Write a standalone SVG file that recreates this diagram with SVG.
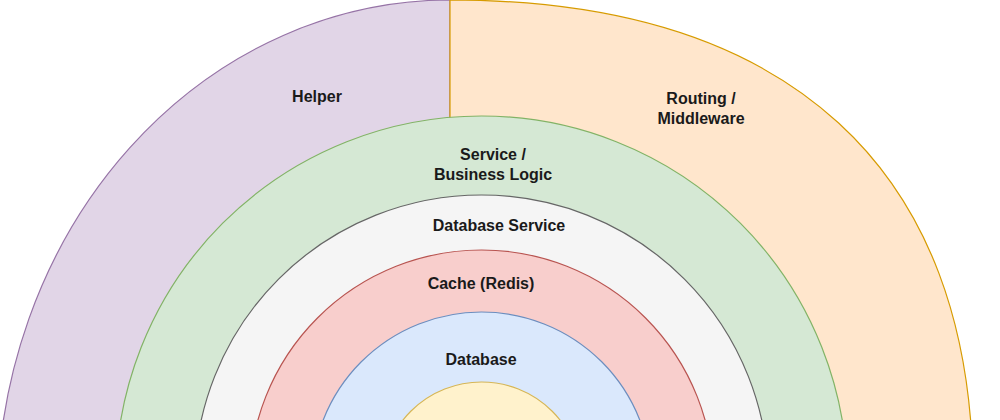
<svg xmlns="http://www.w3.org/2000/svg" width="1000" height="420" viewBox="0 0 1000 420">
<style>
.lbl{font-family:"Liberation Sans",Arial,sans-serif;font-size:16px;font-weight:bold;fill:#1a1a1a;text-anchor:middle}
.layer{stroke-width:1.2}
</style>
<rect width="1000" height="420" fill="#ffffff"/>
<g id="helper">
<path class="layer" d="M450,505 L450,0 A453,505 0 0 0 -3,505 Z" fill="#e1d5e7" stroke="#9673a6"/>
<text class="lbl" x="317" y="102">Helper</text>
</g>
<g id="routing">
<path class="layer" d="M450,480 L450,0 C789,0 973,168 973,480 Z" fill="#ffe6cc" stroke="#d79b00"/>
<text class="lbl" x="701" y="104">Routing /</text>
<text class="lbl" x="701" y="124">Middleware</text>
</g>
<g id="service">
<circle class="layer" cx="481.5" cy="482" r="366" fill="#d5e8d4" stroke="#82b366"/>
<text class="lbl" x="493" y="160">Service /</text>
<text class="lbl" x="493" y="180">Business Logic</text>
</g>
<g id="database-service">
<circle class="layer" cx="481.5" cy="482" r="287" fill="#f5f5f5" stroke="#666666"/>
<text class="lbl" x="499" y="231">Database Service</text>
</g>
<g id="cache">
<circle class="layer" cx="481.5" cy="482" r="232" fill="#f8cecc" stroke="#b85450"/>
<text class="lbl" x="481" y="289">Cache (Redis)</text>
</g>
<g id="database">
<circle class="layer" cx="481.5" cy="482" r="170" fill="#dae8fc" stroke="#6c8ebf"/>
<text class="lbl" x="481" y="365">Database</text>
</g>
<g id="core">
<circle class="layer" cx="481.5" cy="482" r="100" fill="#fff2cc" stroke="#d6b656"/>
</g>
</svg>
